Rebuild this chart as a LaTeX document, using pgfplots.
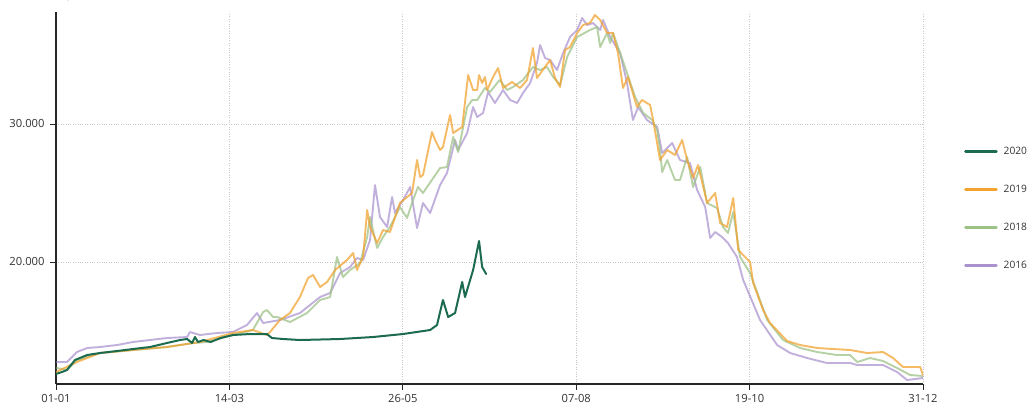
\documentclass[border=0pt]{standalone}
\usepackage{fontspec}
\setmainfont{Open Sans}
\usepackage{pgfplots}
\pgfplotsset{compat=1.18}
\definecolor{cA}{HTML}{1D6B4F}
\definecolor{cB}{HTML}{F2A330}
\definecolor{cC}{HTML}{9DC287}
\definecolor{cD}{HTML}{AB92CF}
\definecolor{txt}{HTML}{333333}
\begin{document}
\begin{tikzpicture}
\useasboundingbox (0,0) rectangle (1031pt,407pt);
\begin{axis}[
  at={(56pt,23pt)}, anchor=south west,
  width=867pt, height=372pt, scale only axis,
  xmin=0, xmax=365, ymin=11160, ymax=38116,
  axis lines=left, axis line style={-, line width=1.2pt, color=black!85},
  tick align=outside, major tick length=6pt,
  tick style={line width=1pt, color=black!85},
  xtick={0,73,146,219,292,365},
  xticklabels={01-01,14-03,26-05,07-08,19-10,31-12},
  ytick={20000,30000},
  yticklabels={20.000,30.000},
  ticklabel style={font=\fontsize{11.2}{13}\selectfont, text=txt},
  yticklabel style={xshift=-2pt},
  xticklabel style={yshift=-1pt},
  grid=major, grid style={dotted, color=black!22, line width=0.7pt},
  reverse legend,
  legend style={at={(1,0.472)}, anchor=west, xshift=41pt, draw=none, fill=none,
    font=\fontsize{10.2}{12}\selectfont, text=txt, inner sep=0pt, row sep=27pt,
    nodes={inner sep=1pt}},
  legend cell align=left,
  legend image code/.code={\draw[#1, line width=2.5pt, opacity=1] (0pt,0pt) -- (31pt,0pt);},
  /tikz/every even column/.append style={column sep=0pt},
  /tikz/every odd column/.append style={column sep=5pt},
  every axis plot/.append style={line join=round, line cap=round},
]
% 2016
\addplot[cD, opacity=0.72, line width=1.9pt] coordinates {
(0.4,12753)(4.6,12753)(8.8,13478)(13.1,13768)(18.5,13840)(25.7,13985)(32.4,14202)(39.6,14347)(46.7,14492)(55.2,14565)(56.4,14927)(60.6,14710)(67.8,14855)(74.5,14927)(80.4,15434)(84.6,16304)(87.2,15579)(94.3,15797)(102.7,16304)(111.2,17463)(115.4,17753)(119.6,19203)(123.8,19637)(126.7,20289)(129.3,20144)(132.2,21594)(134.3,25579)(136.4,23260)(139.4,22536)(141.5,24710)(142.7,23550)(146.1,24492)(149.1,25434)(152.0,22463)(154.5,24275)(157.5,23550)(161.7,25579)(164.6,26449)(168.0,28840)(169.3,28115)(173.1,29347)(175.6,31232)(177.3,30507)(179.8,30797)(181.9,32318)(184.8,31521)(188.2,32463)(191.2,31739)(194.1,31521)(196.6,32246)(199.6,32970)(202.5,34420)(203.8,35724)(205.9,34782)(208.0,34637)(210.9,33912)(213.5,35144)(216.4,36304)(219.4,36811)(221.5,37681)(223.6,37173)(226.1,37318)(229.1,36811)(230.3,37536)(233.3,36304)(237.5,35144)(240.4,32970)(242.9,30289)(245.1,31232)(248.8,30289)(253.1,29782)(255.2,27898)(259.4,28623)(262.7,27391)(266.9,27174)(269.9,25217)(273.3,23985)(275.4,21740)(277.5,22174)(280.4,21811)(282.9,21376)(286.7,20362)(289.3,18695)(296.4,15797)(303.6,13985)(309.1,13405)(316.2,13043)(324.6,12681)(334.3,12681)(337.3,12536)(348.2,12536)(354.1,12028)(358.3,11449)(365,11594)
};
\addlegendentry{2016}
% 2018
\addplot[cC, opacity=0.75, line width=1.9pt] coordinates {
(0.4,12318)(4.6,12174)(8.8,12898)(18.5,13405)(32.4,13623)(46.7,13840)(57.7,14130)(63.6,14202)(74.5,14710)(82.9,15072)(87.2,16376)(88.8,16521)(91.4,16014)(93.1,16014)(98.5,15652)(105.7,16304)(111.2,17246)(115.4,17463)(118.3,20362)(120.8,18913)(123.8,19420)(128.0,19927)(131.0,21811)(132.2,23260)(135.2,21014)(137.7,21811)(140.6,22536)(144.8,23985)(147.8,23188)(150.3,24492)(152.4,25434)(154.5,24999)(161.7,26811)(164.6,26884)(167.2,29058)(169.3,27970)(173.1,31232)(175.2,31739)(177.3,31739)(180.6,32608)(182.7,32318)(186.1,33043)(186.9,33188)(189.9,32463)(192.4,32681)(196.6,33188)(200.8,34130)(203.8,33912)(206.7,34130)(209.3,33405)(212.2,32825)(215.2,34855)(219.4,36304)(224.8,36811)(227.8,37029)(229.1,35579)(232.0,36594)(233.3,35869)(234.5,36594)(237.5,35144)(240.4,33695)(243.8,31956)(247.2,30797)(251.0,30289)(253.1,29565)(254.3,28115)(255.2,26521)(257.3,27391)(260.6,25941)(262.7,25941)(265.7,27609)(268.2,25434)(271.2,26884)(274.1,24275)(278.3,23913)(280.8,22536)(282.9,22101)(285.1,23623)(288.0,20362)(292.2,19203)(299.4,15797)(306.1,14347)(313.3,13768)(320.4,13478)(328.8,13260)(334.3,13260)(337.3,12753)(342.7,13043)(348.2,12826)(354.1,12318)(359.6,11811)(365,11739)
};
\addlegendentry{2018}
% 2019
\addplot[cB, opacity=0.75, line width=1.9pt] coordinates {
(0,12028)(8.8,12753)(18.5,13405)(32.4,13623)(46.7,13840)(60.6,14202)(74.5,14855)(82.9,15072)(88.8,14710)(90.1,14927)(94.3,15797)(98.5,16304)(102.7,17463)(106.1,18840)(108.2,19058)(111.2,18188)(114.1,18551)(117.5,19420)(122.5,20144)(125.1,20652)(126.7,19420)(129.3,20362)(131.0,23768)(132.2,22536)(135.2,21376)(137.7,22318)(140.6,22174)(144.8,24275)(149.9,24999)(152.0,27391)(153.3,26159)(154.5,26304)(158.3,29420)(159.6,28840)(161.7,28115)(162.9,28333)(165.9,30652)(167.2,29347)(171.0,29782)(173.5,33550)(175.6,32463)(177.3,32463)(178.1,33550)(179.4,32970)(180.6,33405)(181.5,32463)(184.0,33405)(186.1,34057)(188.2,32608)(192.0,33043)(195.4,32608)(198.3,33188)(200.8,35507)(202.5,33333)(208.0,34637)(210.1,33333)(212.2,32681)(214.3,35362)(216.4,35579)(219.4,36594)(221.9,37173)(224.8,37318)(226.9,37898)(229.1,37536)(232.0,36594)(234.5,36594)(236.6,35144)(238.7,32608)(240.8,33405)(244.6,31232)(246.7,31739)(250.1,31376)(251.4,30289)(254.3,27391)(257.3,28115)(260.6,27753)(263.6,28840)(265.7,27391)(268.2,26086)(270.3,27029)(274.1,24275)(277.5,24999)(279.6,22826)(282.5,22536)(285.1,24637)(287.2,20869)(292.2,20000)(293.5,18478)(297.7,16521)(300.6,15579)(307.8,14275)(313.3,13985)(320.4,13768)(327.2,13695)(334.3,13623)(341.5,13405)(348.2,13478)(352.4,13043)(356.6,12391)(363.8,12391)(365,11811)
};
\addlegendentry{2019}
% 2020
\addplot[cA, line width=2pt] coordinates {
(0,11883)(2.5,12028)(4.6,12174)(8,12898)(13.1,13260)(18.5,13405)(25.7,13550)(32.4,13695)(39.6,13840)(46.7,14130)(52.2,14347)(55.2,14420)(57.3,14130)(58.5,14565)(59.8,14202)(62.1,14347)(65.1,14202)(69.3,14492)(74.5,14710)(81.7,14782)(88.8,14782)(90.9,14492)(95.6,14420)(102.7,14347)(119.6,14420)(133.5,14565)(146.1,14782)(157.5,15072)(160.4,15434)(162.9,17246)(165.1,16014)(168.0,16304)(171.0,18551)(172.2,17463)(175.6,19420)(178.1,21521)(179.4,19637)(181.1,19130)
};
\addlegendentry{2020}
\end{axis}
\end{tikzpicture}
\end{document}
